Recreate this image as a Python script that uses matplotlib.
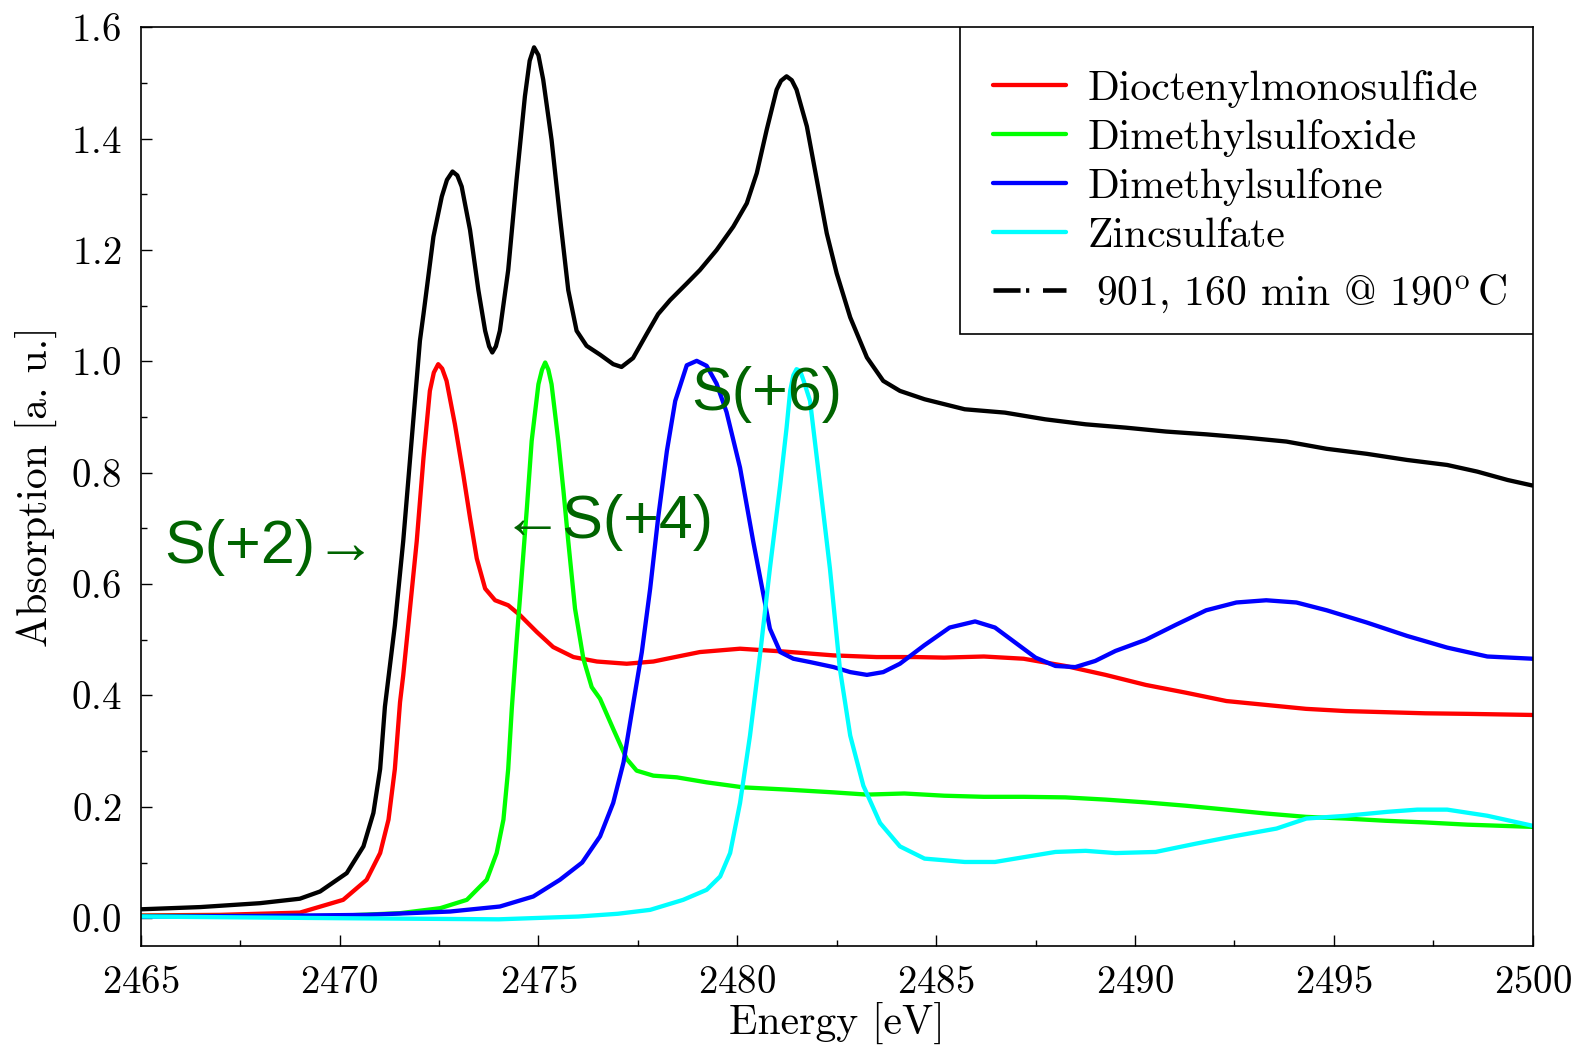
import matplotlib
matplotlib.use("Agg")
import matplotlib.pyplot as plt
from matplotlib.lines import Line2D
from matplotlib.patches import Rectangle

plt.rcParams["font.family"] = "cmr10"
plt.rcParams["mathtext.fontset"] = "cm"
plt.rcParams["axes.formatter.use_mathtext"] = True
plt.rcParams["axes.unicode_minus"] = False

# sample 901, 160 min at 190 C
e_sample = [2465.0, 2466.5, 2468.0, 2469.0, 2469.51, 2470.18, 2470.6, 2470.85, 2471.02, 2471.14,
            2471.39, 2471.6, 2471.81, 2472.02, 2472.11, 2472.36, 2472.57, 2472.7, 2472.84, 2472.96,
            2473.07, 2473.28, 2473.49, 2473.66, 2473.76, 2473.84, 2473.93, 2474.03, 2474.24, 2474.45,
            2474.66, 2474.78, 2474.89, 2475.0, 2475.12, 2475.33, 2475.54, 2475.75, 2475.96, 2476.21,
            2476.55, 2476.88, 2477.09, 2477.38, 2477.72, 2478.01, 2478.31, 2478.73, 2479.06, 2479.48,
            2479.9, 2480.24, 2480.49, 2480.74, 2480.99, 2481.1, 2481.24, 2481.37, 2481.49, 2481.75,
            2482.0, 2482.25, 2482.5, 2482.84, 2483.26, 2483.67, 2484.09, 2484.71, 2485.72, 2486.73,
            2487.74, 2488.76, 2489.77, 2490.78, 2491.79, 2492.8, 2493.81, 2494.82, 2495.83, 2496.84,
            2497.85, 2498.61, 2499.37, 2500.0]
a_sample = [0.016, 0.02, 0.027, 0.035, 0.048, 0.081, 0.129, 0.189, 0.268, 0.38,
            0.526, 0.677, 0.857, 1.037, 1.085, 1.224, 1.296, 1.326, 1.341, 1.334,
            1.314, 1.236, 1.128, 1.055, 1.027, 1.016, 1.027, 1.055, 1.164, 1.326,
            1.476, 1.54, 1.564, 1.55, 1.506, 1.398, 1.26, 1.128, 1.055, 1.028,
            1.012, 0.995, 0.99, 1.006, 1.049, 1.085, 1.11, 1.14, 1.164, 1.2,
            1.242, 1.284, 1.338, 1.416, 1.488, 1.504, 1.512, 1.505, 1.488, 1.422,
            1.326, 1.23, 1.158, 1.079, 1.007, 0.965, 0.947, 0.932, 0.914, 0.908,
            0.896, 0.887, 0.881, 0.874, 0.869, 0.863, 0.856, 0.843, 0.834, 0.823,
            0.814, 0.802, 0.787, 0.777]

# dioctenylmonosulfide
e_mono = [2465.0, 2467.0, 2468.0, 2469.0, 2470.09, 2470.68, 2471.02, 2471.23, 2471.39, 2471.52,
          2471.6, 2471.77, 2471.94, 2472.11, 2472.27, 2472.37, 2472.48, 2472.58, 2472.69, 2472.9,
          2473.11, 2473.28, 2473.45, 2473.66, 2473.91, 2474.24, 2474.54, 2474.96, 2475.37, 2475.88,
          2476.47, 2477.22, 2477.89, 2478.23, 2479.06, 2480.07, 2481.16, 2482.42, 2483.5, 2484.5,
          2485.2, 2486.2, 2487.2, 2488.25, 2489.26, 2490.27, 2491.28, 2492.3, 2493.3, 2494.3,
          2495.3, 2496.3, 2497.3, 2498.36, 2500.0]
a_mono = [0.005, 0.006, 0.008, 0.01, 0.033, 0.069, 0.117, 0.177, 0.268, 0.388,
          0.436, 0.556, 0.677, 0.827, 0.947, 0.98, 0.995, 0.987, 0.965, 0.887,
          0.797, 0.719, 0.646, 0.592, 0.571, 0.562, 0.544, 0.514, 0.487, 0.469,
          0.461, 0.457, 0.461, 0.466, 0.478, 0.484, 0.479, 0.472, 0.469, 0.469,
          0.468, 0.47, 0.466, 0.453, 0.437, 0.419, 0.405, 0.39, 0.383, 0.376,
          0.372, 0.37, 0.368, 0.367, 0.365]

# dimethylsulfoxide
e_dmso = [2465.0, 2468.0, 2469.84, 2471.52, 2472.53, 2473.2, 2473.7, 2473.95, 2474.12, 2474.24,
          2474.33, 2474.45, 2474.58, 2474.71, 2474.83, 2475.0, 2475.09, 2475.17, 2475.25, 2475.33,
          2475.5, 2475.63, 2475.75, 2475.92, 2476.13, 2476.34, 2476.55, 2476.88, 2477.22, 2477.47,
          2477.89, 2478.48, 2479.23, 2480.15, 2481.24, 2482.42, 2483.26, 2484.2, 2485.2, 2486.2,
          2487.2, 2488.25, 2489.26, 2490.27, 2491.28, 2492.3, 2493.3, 2494.3, 2495.3, 2496.3,
          2497.3, 2498.36, 2500.0]
a_dmso = [0.004, 0.004, 0.004, 0.009, 0.018, 0.033, 0.069, 0.117, 0.177, 0.268,
          0.376, 0.496, 0.616, 0.737, 0.857, 0.959, 0.985, 0.998, 0.985, 0.959,
          0.857, 0.767, 0.677, 0.556, 0.466, 0.415, 0.394, 0.34, 0.286, 0.265,
          0.256, 0.253, 0.244, 0.235, 0.231, 0.226, 0.222, 0.224, 0.22, 0.218,
          0.218, 0.217, 0.213, 0.208, 0.202, 0.195, 0.188, 0.182, 0.179, 0.175,
          0.172, 0.168, 0.164]

# dimethylsulfone
e_dmso2 = [2465.0, 2468.0, 2470.68, 2472.78, 2474.03, 2474.87, 2475.54, 2476.1, 2476.55, 2476.88,
           2477.14, 2477.39, 2477.6, 2477.81, 2478.01, 2478.23, 2478.44, 2478.73, 2478.98, 2479.23,
           2479.48, 2479.73, 2480.07, 2480.4, 2480.66, 2480.82, 2481.08, 2481.41, 2481.83, 2482.42,
           2482.84, 2483.26, 2483.67, 2484.09, 2484.7, 2485.34, 2485.98, 2486.48, 2486.99, 2487.5,
           2488.0, 2488.5, 2489.0, 2489.51, 2490.27, 2491.03, 2491.79, 2492.55, 2493.3, 2494.06,
           2494.82, 2495.83, 2496.84, 2497.85, 2498.86, 2500.0]
a_dmso2 = [0.003, 0.004, 0.006, 0.012, 0.021, 0.039, 0.069, 0.1, 0.147, 0.207,
           0.28, 0.388, 0.478, 0.592, 0.719, 0.839, 0.929, 0.993, 1.001, 0.992,
           0.96, 0.909, 0.809, 0.677, 0.58, 0.52, 0.478, 0.466, 0.46, 0.451,
           0.442, 0.437, 0.442, 0.457, 0.49, 0.522, 0.533, 0.522, 0.495, 0.468,
           0.453, 0.451, 0.462, 0.48, 0.5, 0.527, 0.553, 0.567, 0.571, 0.567,
           0.553, 0.531, 0.507, 0.486, 0.47, 0.466]

# zincsulfate
e_zn = [2465.0, 2470.0, 2474.0, 2476.0, 2477.0, 2477.81, 2478.64, 2479.23, 2479.57, 2479.82,
        2480.07, 2480.32, 2480.58, 2480.82, 2481.08, 2481.24, 2481.33, 2481.41, 2481.49, 2481.58,
        2481.67, 2481.83, 2482.08, 2482.33, 2482.58, 2482.84, 2483.17, 2483.59, 2484.09, 2484.71,
        2485.72, 2486.48, 2487.24, 2488.0, 2488.76, 2489.51, 2490.52, 2491.54, 2492.55, 2493.56,
        2494.31, 2495.32, 2496.34, 2497.1, 2497.85, 2498.86, 2500.0]
a_zn = [0.003, 0.0, -0.002, 0.003, 0.008, 0.015, 0.033, 0.051, 0.075, 0.117,
        0.207, 0.328, 0.478, 0.628, 0.779, 0.881, 0.947, 0.975, 0.986, 0.983,
        0.965, 0.929, 0.779, 0.628, 0.448, 0.328, 0.238, 0.171, 0.129, 0.107,
        0.101, 0.101, 0.11, 0.119, 0.121, 0.117, 0.119, 0.134, 0.148, 0.161,
        0.179, 0.184, 0.191, 0.195, 0.195, 0.184, 0.166]

fig = plt.figure(figsize=(15.76, 10.5), dpi=100)
ax = fig.add_axes([0.0893, 0.099, 0.8832, 0.875])

lw = 3.1
style = dict(lw=lw, solid_joinstyle="round", solid_capstyle="round")
ax.plot(e_mono, a_mono, color="#ff0000", label="Dioctenylmonosulfide", **style)
ax.plot(e_dmso, a_dmso, color="#00ff00", label="Dimethylsulfoxide", **style)
ax.plot(e_dmso2, a_dmso2, color="#0000ff", label="Dimethylsulfone", **style)
ax.plot(e_zn, a_zn, color="#00ffff", label="Zincsulfate", **style)
ax.plot(e_sample, a_sample, color="black", **style)

# legend box drawn by hand, entries placed inside it
box = Rectangle((0.5884, 0.6663), 0.4116, 0.3337, transform=ax.transAxes,
                facecolor="white", edgecolor="black", lw=1.2, zorder=4.5)
ax.add_patch(box)

leg_opts = dict(loc="upper left", fontsize=30, borderpad=0, borderaxespad=0,
                frameon=False, handlelength=1.74, labelspacing=0.27)
leg1 = ax.legend(bbox_to_anchor=(0.6123, 0.954), handletextpad=0.53, **leg_opts)
ax.add_artist(leg1)
sample_handle = Line2D([], [], color="black", lw=3.3, dashes=(5.9, 1.2, 0.7, 3.0))
ax.legend([sample_handle], [r"901, 160 min @ 190$^{\rm o}\,$C"],
          bbox_to_anchor=(0.6123, 0.733), handletextpad=0.72, **leg_opts)

green = "#006400"
sans = ["Liberation Sans", "DejaVu Sans"]
ax.text(2465.6, 0.666, "S(+2)→", fontsize=44, color=green, va="center", family=sans)
ax.text(2474.07, 0.711, "←S(+4)", fontsize=44, color=green, va="center", family=sans)
ax.text(2478.85, 0.941, "S(+6)", fontsize=44, color=green, va="center", family=sans)

ax.set_xlim(2465, 2500)
ax.set_ylim(-0.05, 1.6)
ax.set_xticks([2465, 2470, 2475, 2480, 2485, 2490, 2495, 2500])
ax.set_xticks([2467.5 + 5 * i for i in range(7)], minor=True)
ax.set_yticks([0.0, 0.2, 0.4, 0.6, 0.8, 1.0, 1.2, 1.4, 1.6])
ax.set_yticks([0.1 + 0.2 * i for i in range(8)], minor=True)
ax.ticklabel_format(useOffset=False)
ax.tick_params(which="both", direction="in", labelsize=28, width=1.0, pad=14)
ax.tick_params(which="major", length=8)
ax.tick_params(which="minor", length=4.5)
for s in ax.spines.values():
    s.set_linewidth(1.2)

ax.set_xlabel("Energy [eV]", fontsize=30, labelpad=0)
ax.set_ylabel("Absorption [a. u.]", fontsize=30, labelpad=10)

fig.savefig("out.png", dpi=100)
